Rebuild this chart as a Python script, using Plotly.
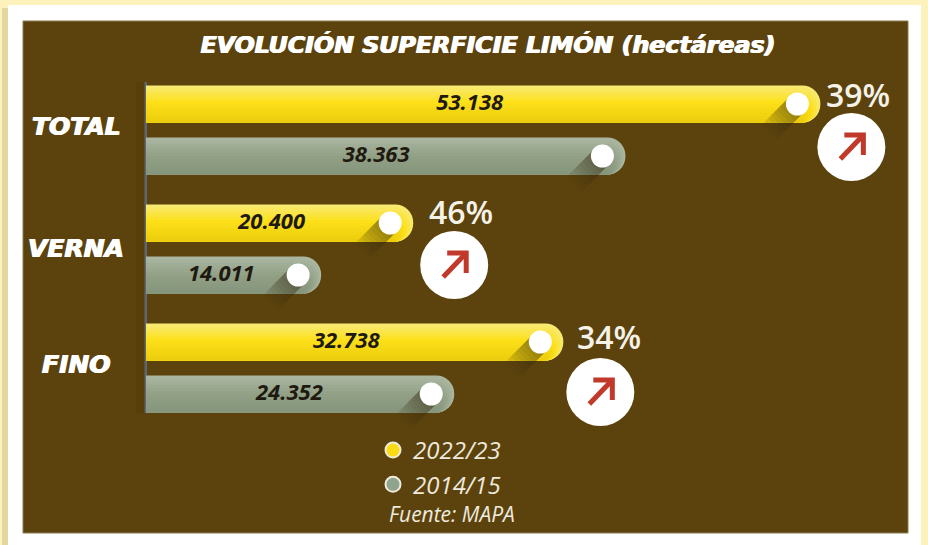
import plotly.graph_objects as go

categories = ["TOTAL", "VERNA", "FINO"]
season_new = "2022/23"
season_old = "2014/15"
labels_new = ["53.138", "20.400", "32.738"]
labels_old = ["38.363", "14.011", "24.352"]
# bar lengths in hectares, as drawn in the picture
values_new = [53100, 21040, 32860]
values_old = [37750, 13790, 24270]
changes = ["39%", "46%", "34%"]
title_text = "EVOLUCIÓN SUPERFICIE LIMÓN (hectáreas)"
source_text = "Fuente: MAPA"

W, H = 928, 545
X0 = 146
SCALE = 0.0127   # px per hectare
ROW0, ROWH = 130, 119
BAR_PX = 37
GAP_PX = 26

def dx(px): return px / SCALE
def dy(px): return px / ROWH
def pxx(px): return (px - X0) / SCALE
def pxy(px): return (px - ROW0) / ROWH

rows = list(range(len(categories)))
y_new = [r - dy(GAP_PX) for r in rows]
y_old = [r + dy(GAP_PX) for r in rows]

def mix(stops, t):
    for (a, ca), (b, cb) in zip(stops, stops[1:]):
        if t <= b:
            f = (t - a) / (b - a)
            return "rgb(%d,%d,%d)" % tuple(round(p + (q - p) * f) for p, q in zip(ca, cb))
    return "rgb(%d,%d,%d)" % stops[-1][1]

yellow = [(0, (248, 233, 112)), (0.45, (253, 224, 24)), (1, (236, 206, 14))]
grey = [(0, (170, 182, 160)), (0.5, (146, 160, 134)), (1, (134, 150, 124))]

fig = go.Figure()

def gradient_bars(values, ys, stops):
    n = 12
    for k in range(n):
        frac = 1 - k / n
        h = BAR_PX * frac
        inset = dx((BAR_PX - h) / 2)
        fig.add_trace(go.Bar(
            y=ys, x=[v - inset for v in values], orientation="h",
            width=dy(h), offset=dy(BAR_PX / 2 - h),
            marker=dict(color=mix(stops, k / (n - 1)), line_width=0, cornerradius="50%"),
            showlegend=False, hoverinfo="skip"))

gradient_bars(values_new, y_new, yellow)
gradient_bars(values_old, y_old, grey)

KNOB = 23
for values, ys in ((values_new, y_new), (values_old, y_old)):
    for v, y in zip(values, ys):
        for reach in (28, 25, 22, 19, 16, 13, 10, 7):
            fig.add_trace(go.Scatter(
                x=[v - dx(KNOB), v - dx(KNOB + reach)], y=[y, y + dy(reach)],
                mode="lines", line=dict(color="rgba(50,36,8,0.075)", width=21),
                showlegend=False, hoverinfo="skip"))
    fig.add_trace(go.Scatter(
        x=[v - dx(KNOB) for v in values], y=ys, mode="markers",
        marker=dict(size=23, color="white"), showlegend=False, hoverinfo="skip"))

value_font = dict(family="Open Sans", size=22, color="#1e1a10", weight=700, style="italic")
frac_new = [0.48, 0.47, 0.48]
frac_old = [0.48, 0.43, 0.465]
fig.add_trace(go.Scatter(
    x=[v * f for v, f in zip(values_new, frac_new)], y=y_new, text=labels_new, mode="text",
    textfont=value_font, showlegend=False, hoverinfo="skip"))
fig.add_trace(go.Scatter(
    x=[v * f for v, f in zip(values_old, frac_old)], y=y_old, text=labels_old, mode="text",
    textfont=value_font, showlegend=False, hoverinfo="skip"))

# change badges, placed relative to the end of each yellow bar
badge_dx = [31, 41, 37]
badge_dy = [43, 42, 50]
text_dx = [38, 48, 46]
text_dy = [-10, -12, -6]
bx = [v + dx(d) for v, d in zip(values_new, badge_dx)]
by = [y + dy(d) for y, d in zip(y_new, badge_dy)]
fig.add_trace(go.Scatter(x=bx, y=by, mode="markers",
                         marker=dict(size=68, color="white"),
                         showlegend=False, hoverinfo="skip"))
for cx, cy in zip(bx, by):
    pts = [(-7, -12), (12, -12), (12, 8), None, (-11, 12), (12, -12)]
    fig.add_trace(go.Scatter(
        x=[None if p is None else cx + dx(p[0]) for p in pts],
        y=[None if p is None else cy + dy(p[1]) for p in pts],
        mode="lines", line=dict(color="#c0392b", width=5),
        showlegend=False, hoverinfo="skip"))

# legend entries
for name, col in ((season_new, "#fbdc14"), (season_old, "#8fa48c")):
    fig.add_trace(go.Scatter(
        x=[None], y=[None], mode="markers", name=name, legendgroup=name,
        marker=dict(size=15, color=col, line=dict(color="#efeadb", width=2))))

heavy = "0.7px 0 0 white, -0.7px 0 0 white"
annotations = []
for cat, r, sh in zip(categories, rows, (-4, -1, -4)):
    annotations.append(dict(
        x=pxx(76), y=r, xref="x", yref="y", text=cat, showarrow=False, yshift=-sh,
        font=dict(family="DejaVu Sans", size=25, color="white", weight=700, style="italic",
                  shadow=heavy)))
for t, v, y, a, b in zip(changes, values_new, y_new, text_dx, text_dy):
    annotations.append(dict(
        x=v + dx(a), y=y + dy(b), xref="x", yref="y", text=t, showarrow=False,
        font=dict(family="Open Sans", size=32, color="#f5f2e8", weight=600)))
annotations.append(dict(
    x=pxx(452), y=pxy(514), xref="x", yref="y", text=source_text, showarrow=False,
    font=dict(family="Open Sans", size=21, color="#eeeadc", style="italic")))

def prect(x0, y0, x1, y1, **kw):
    return dict(type="rect", xref="paper", yref="paper", x0=x0 / W, x1=x1 / W,
                y0=1 - y0 / H, y1=1 - y1 / H, layer="below", **kw)

shapes = [
    prect(0, 0, W, H, fillcolor="#fdf2bb", line_width=0),
    prect(2, 8, 8, H, fillcolor="#e2d79c", line_width=0),
    prect(8, 5, 921, H, fillcolor="white", line_width=0),
    prect(23, 21, 908, 533, fillcolor="#5c430e", line=dict(color="#8a7a52", width=1)),
    prect(136, 82, 145, 413, fillcolor="rgba(60,40,8,0.15)", line_width=0),
    prect(144.5, 82, 147, 413, fillcolor="#5e6672", line_width=0),
]

fig.update_layout(
    width=W, height=H, margin=dict(l=0, r=0, t=0, b=0),
    autosize=False, barmode="overlay",
    paper_bgcolor="#fdf2bb", plot_bgcolor="rgba(0,0,0,0)",
    title=dict(text=title_text, x=488 / W, y=1 - 45 / H, xanchor="center", yanchor="middle",
               xref="paper", yref="paper",
               font=dict(family="DejaVu Sans", size=23.7, color="white", weight=700, style="italic",
                         shadow=heavy)),
    xaxis=dict(range=[-X0 / SCALE, (W - X0) / SCALE], visible=False, domain=[0, 1], fixedrange=True),
    yaxis=dict(range=[(H - ROW0) / ROWH, -ROW0 / ROWH], visible=False, domain=[0, 1], fixedrange=True),
    legend=dict(x=373 / W, y=1 - 428 / H, xanchor="left", yanchor="top",
                bgcolor="rgba(0,0,0,0)", tracegroupgap=0, itemwidth=30,
                font=dict(family="Open Sans", size=24, color="#eeeadc", style="italic")),
    annotations=annotations, shapes=shapes,
)

fig.write_html("out.html", config=dict(displayModeBar=False),
               post_script="document.body.style.margin='0';document.documentElement.style.overflow='hidden';document.body.style.background='#fdf2bb';")
